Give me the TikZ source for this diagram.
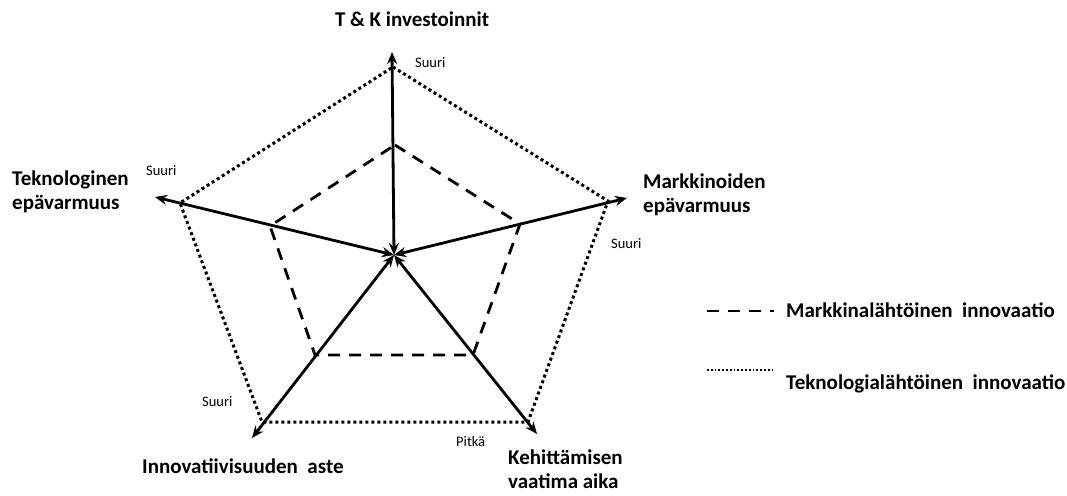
\documentclass[tikz,border=0pt]{standalone}
\usepackage{fontspec}
\setmainfont{Carlito}
\usetikzlibrary{arrows.meta}
\begin{document}
\begin{tikzpicture}[x=1pt,y=-1pt,
  axis/.style={line width=2.8pt,{Stealth[length=12pt,width=10pt]}-{Stealth[length=12pt,width=10pt]}},
  market/.style={line width=2.8pt,dash pattern=on 12pt off 9pt},
  techno/.style={line width=3pt,dash pattern=on 3pt off 3pt},
  title/.style={font=\bfseries\fontsize{21}{24}\selectfont,align=left,inner sep=0pt},
  small/.style={font=\fontsize{14.5}{16}\selectfont,inner sep=0pt}]
\useasboundingbox (0,0) rectangle (1067,495);
% axes
\coordinate (C) at (394,255);
\coordinate (A1) at (392,52);
\coordinate (A2) at (627,198);
\coordinate (A3) at (537,434);
\coordinate (A4) at (252,438);
\coordinate (A5) at (155,197);
% outer pentagon (technology driven)
\coordinate (T1) at (393,67);
\coordinate (T2) at (608,201);
\coordinate (T3) at (528,422);
\coordinate (T4) at (262,422);
\coordinate (T5) at (180,203);
% inner pentagon (market driven)
\coordinate (M1) at (395,145);
\coordinate (M2) at (520,224);
\coordinate (M3) at (473,355);
\coordinate (M4) at (315,355);
\coordinate (M5) at (270,226);
\draw[techno] (T1) -- (T2) -- (T3) -- (T4) -- (T5) -- cycle;
\draw[market] (M1) -- (M2) -- (M3) -- (M4) -- (M5) -- cycle;
\foreach \a in {A1,A2,A3,A4,A5} \draw[axis] (C) -- (\a);
% axis labels (two-line labels are placed by their last baseline)
\node[title,anchor=base] (l1) at (412,27) {T \& K investoinnit};
\node[title,anchor=base west] (l2) at (643,212) {Markkinoiden\\epävarmuus};
\node[title,anchor=base west] (l3) at (508,488) {Kehittämisen\\vaatima aika};
\node[title,anchor=base west] (l4) at (142,473) {Innovatiivisuuden\ \ aste};
\node[title,anchor=base west] (l5) at (12,209) {Teknologinen\\epävarmuus};
% scale labels
\node[small,anchor=base west] (s1) at (415,67) {Suuri};
\node[small,anchor=base west] (s2) at (611,248) {Suuri};
\node[small,anchor=base west] (s3) at (456,446) {Pitkä};
\node[small,anchor=base west] (s4) at (202,406) {Suuri};
\node[small,anchor=base west] (s5) at (146,175) {Suuri};
% legend
\coordinate (g1a) at (707,311);
\coordinate (g1b) at (774,311);
\coordinate (g2a) at (707,370);
\coordinate (g2b) at (774,370);
\draw[market] (g1a) -- (g1b);
\draw[line width=1.8pt,dash pattern=on 1.8pt off 2pt] (g2a) -- (g2b);
\node[title,anchor=base west] (k1) at (786,317) {Markkinalähtöinen\ \ innovaatio};
\node[title,anchor=base west] (k2) at (786,389) {Teknologialähtöinen\ \ innovaatio};
\end{tikzpicture}
\end{document}
